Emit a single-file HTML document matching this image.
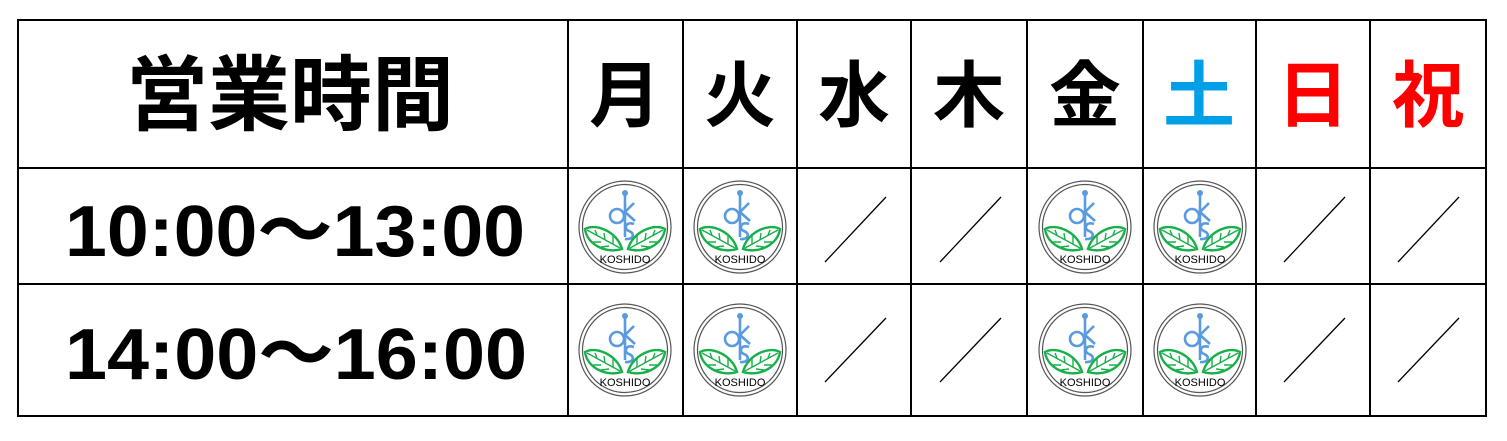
<!DOCTYPE html>
<html><head><meta charset="utf-8"><style>html,body{margin:0;padding:0;background:#fff;}svg{display:block}</style></head>
<body>
<svg width="1507" height="441" viewBox="0 0 1507 441" xmlns="http://www.w3.org/2000/svg">
<rect x="0" y="0" width="1507" height="441" fill="#fff"/>
<g stroke="#000" stroke-width="2" fill="none">
<rect x="18" y="20" width="1468" height="396"/>
<line x1="18" y1="168" x2="1486" y2="168"/>
<line x1="18" y1="284" x2="1486" y2="284"/>
<line x1="568" y1="20" x2="568" y2="416"/>
<line x1="683" y1="20" x2="683" y2="416"/>
<line x1="797" y1="20" x2="797" y2="416"/>
<line x1="911" y1="20" x2="911" y2="416"/>
<line x1="1027" y1="20" x2="1027" y2="416"/>
<line x1="1143" y1="20" x2="1143" y2="416"/>
<line x1="1256" y1="20" x2="1256" y2="416"/>
<line x1="1370" y1="20" x2="1370" y2="416"/>
</g>
<g font-family="'Liberation Sans','Noto Sans CJK JP',sans-serif" font-weight="bold" text-anchor="middle" dominant-baseline="central">
<text x="290" y="96" font-size="82">営業時間</text>
<text x="625" y="97" font-size="72">月</text>
<text x="740" y="97" font-size="72">火</text>
<text x="854" y="97" font-size="72">水</text>
<text x="969" y="97" font-size="72">木</text>
<text x="1085" y="97" font-size="72">金</text>
<text x="1199" y="97" font-size="72" fill="#00a0e9">土</text>
<text x="1313" y="97" font-size="72" fill="#ff0000">日</text>
<text x="1428" y="97" font-size="72" fill="#ff0000">祝</text>
</g>
<g font-family="'Liberation Sans','Noto Sans CJK JP',sans-serif" font-weight="bold" font-size="72">
<text x="65" y="256" textLength="460" lengthAdjust="spacingAndGlyphs">10:00～13:00</text>
<text x="65" y="379" textLength="462" lengthAdjust="spacingAndGlyphs">14:00～16:00</text>
</g>
<g stroke="#000" stroke-width="1.3">
<line x1="825" y1="262" x2="886" y2="197"/>
<line x1="940" y1="262" x2="1001" y2="197"/>
<line x1="1284" y1="262" x2="1345" y2="197"/>
<line x1="1398" y1="262" x2="1459" y2="197"/>
<line x1="825" y1="382" x2="886" y2="318"/>
<line x1="940" y1="382" x2="1001" y2="318"/>
<line x1="1284" y1="382" x2="1345" y2="318"/>
<line x1="1398" y1="382" x2="1459" y2="318"/>
</g>
<g transform="translate(625,227)">
<circle r="46" fill="#fff" stroke="#555" stroke-width="1.2"/><circle r="42.5" fill="none" stroke="#555" stroke-width="1.2"/>
<g stroke="#5a9be0" stroke-width="2.6" fill="none"><line x1="0" y1="-33" x2="0" y2="10"/><circle cx="-8" cy="-11" r="7"/><path d="M0,-15 L9,-24 M0,-15 L10,-6"/><path d="M9,-3 C1,-6 -2,2 4,4 C10,6 9,13 0,12"/></g>
<circle cx="0" cy="-34" r="3" fill="#5a9be0"/>
<g stroke="#18b04a" stroke-width="2.4" fill="#fff"><path d="M-3,22 C-8,4 -30,-4 -40,2 C-38,18 -18,27 -3,22 Z"/><path d="M3,22 C8,4 30,-4 40,2 C38,18 18,27 3,22 Z"/></g>
<g stroke="#18b04a" stroke-width="1.4" fill="none"><path d="M-5,21 L-38,3 M-12,17 L-12,9 M-20,13 L-21,6 M-28,8 L-30,3 M-16,19 L-24,20 M-24,15 L-32,15"/><path d="M5,21 L38,3 M12,17 L12,9 M20,13 L21,6 M28,8 L30,3 M16,19 L24,20 M24,15 L32,15"/></g>
<text x="0" y="36" text-anchor="middle" font-family="'Liberation Sans',sans-serif" font-size="11" fill="#000">KOSHIDO</text>
</g>
<g transform="translate(740,227)">
<circle r="46" fill="#fff" stroke="#555" stroke-width="1.2"/><circle r="42.5" fill="none" stroke="#555" stroke-width="1.2"/>
<g stroke="#5a9be0" stroke-width="2.6" fill="none"><line x1="0" y1="-33" x2="0" y2="10"/><circle cx="-8" cy="-11" r="7"/><path d="M0,-15 L9,-24 M0,-15 L10,-6"/><path d="M9,-3 C1,-6 -2,2 4,4 C10,6 9,13 0,12"/></g>
<circle cx="0" cy="-34" r="3" fill="#5a9be0"/>
<g stroke="#18b04a" stroke-width="2.4" fill="#fff"><path d="M-3,22 C-8,4 -30,-4 -40,2 C-38,18 -18,27 -3,22 Z"/><path d="M3,22 C8,4 30,-4 40,2 C38,18 18,27 3,22 Z"/></g>
<g stroke="#18b04a" stroke-width="1.4" fill="none"><path d="M-5,21 L-38,3 M-12,17 L-12,9 M-20,13 L-21,6 M-28,8 L-30,3 M-16,19 L-24,20 M-24,15 L-32,15"/><path d="M5,21 L38,3 M12,17 L12,9 M20,13 L21,6 M28,8 L30,3 M16,19 L24,20 M24,15 L32,15"/></g>
<text x="0" y="36" text-anchor="middle" font-family="'Liberation Sans',sans-serif" font-size="11" fill="#000">KOSHIDO</text>
</g>
<g transform="translate(1085,227)">
<circle r="46" fill="#fff" stroke="#555" stroke-width="1.2"/><circle r="42.5" fill="none" stroke="#555" stroke-width="1.2"/>
<g stroke="#5a9be0" stroke-width="2.6" fill="none"><line x1="0" y1="-33" x2="0" y2="10"/><circle cx="-8" cy="-11" r="7"/><path d="M0,-15 L9,-24 M0,-15 L10,-6"/><path d="M9,-3 C1,-6 -2,2 4,4 C10,6 9,13 0,12"/></g>
<circle cx="0" cy="-34" r="3" fill="#5a9be0"/>
<g stroke="#18b04a" stroke-width="2.4" fill="#fff"><path d="M-3,22 C-8,4 -30,-4 -40,2 C-38,18 -18,27 -3,22 Z"/><path d="M3,22 C8,4 30,-4 40,2 C38,18 18,27 3,22 Z"/></g>
<g stroke="#18b04a" stroke-width="1.4" fill="none"><path d="M-5,21 L-38,3 M-12,17 L-12,9 M-20,13 L-21,6 M-28,8 L-30,3 M-16,19 L-24,20 M-24,15 L-32,15"/><path d="M5,21 L38,3 M12,17 L12,9 M20,13 L21,6 M28,8 L30,3 M16,19 L24,20 M24,15 L32,15"/></g>
<text x="0" y="36" text-anchor="middle" font-family="'Liberation Sans',sans-serif" font-size="11" fill="#000">KOSHIDO</text>
</g>
<g transform="translate(1200,227)">
<circle r="46" fill="#fff" stroke="#555" stroke-width="1.2"/><circle r="42.5" fill="none" stroke="#555" stroke-width="1.2"/>
<g stroke="#5a9be0" stroke-width="2.6" fill="none"><line x1="0" y1="-33" x2="0" y2="10"/><circle cx="-8" cy="-11" r="7"/><path d="M0,-15 L9,-24 M0,-15 L10,-6"/><path d="M9,-3 C1,-6 -2,2 4,4 C10,6 9,13 0,12"/></g>
<circle cx="0" cy="-34" r="3" fill="#5a9be0"/>
<g stroke="#18b04a" stroke-width="2.4" fill="#fff"><path d="M-3,22 C-8,4 -30,-4 -40,2 C-38,18 -18,27 -3,22 Z"/><path d="M3,22 C8,4 30,-4 40,2 C38,18 18,27 3,22 Z"/></g>
<g stroke="#18b04a" stroke-width="1.4" fill="none"><path d="M-5,21 L-38,3 M-12,17 L-12,9 M-20,13 L-21,6 M-28,8 L-30,3 M-16,19 L-24,20 M-24,15 L-32,15"/><path d="M5,21 L38,3 M12,17 L12,9 M20,13 L21,6 M28,8 L30,3 M16,19 L24,20 M24,15 L32,15"/></g>
<text x="0" y="36" text-anchor="middle" font-family="'Liberation Sans',sans-serif" font-size="11" fill="#000">KOSHIDO</text>
</g>
<g transform="translate(625,350)">
<circle r="46" fill="#fff" stroke="#555" stroke-width="1.2"/><circle r="42.5" fill="none" stroke="#555" stroke-width="1.2"/>
<g stroke="#5a9be0" stroke-width="2.6" fill="none"><line x1="0" y1="-33" x2="0" y2="10"/><circle cx="-8" cy="-11" r="7"/><path d="M0,-15 L9,-24 M0,-15 L10,-6"/><path d="M9,-3 C1,-6 -2,2 4,4 C10,6 9,13 0,12"/></g>
<circle cx="0" cy="-34" r="3" fill="#5a9be0"/>
<g stroke="#18b04a" stroke-width="2.4" fill="#fff"><path d="M-3,22 C-8,4 -30,-4 -40,2 C-38,18 -18,27 -3,22 Z"/><path d="M3,22 C8,4 30,-4 40,2 C38,18 18,27 3,22 Z"/></g>
<g stroke="#18b04a" stroke-width="1.4" fill="none"><path d="M-5,21 L-38,3 M-12,17 L-12,9 M-20,13 L-21,6 M-28,8 L-30,3 M-16,19 L-24,20 M-24,15 L-32,15"/><path d="M5,21 L38,3 M12,17 L12,9 M20,13 L21,6 M28,8 L30,3 M16,19 L24,20 M24,15 L32,15"/></g>
<text x="0" y="36" text-anchor="middle" font-family="'Liberation Sans',sans-serif" font-size="11" fill="#000">KOSHIDO</text>
</g>
<g transform="translate(740,350)">
<circle r="46" fill="#fff" stroke="#555" stroke-width="1.2"/><circle r="42.5" fill="none" stroke="#555" stroke-width="1.2"/>
<g stroke="#5a9be0" stroke-width="2.6" fill="none"><line x1="0" y1="-33" x2="0" y2="10"/><circle cx="-8" cy="-11" r="7"/><path d="M0,-15 L9,-24 M0,-15 L10,-6"/><path d="M9,-3 C1,-6 -2,2 4,4 C10,6 9,13 0,12"/></g>
<circle cx="0" cy="-34" r="3" fill="#5a9be0"/>
<g stroke="#18b04a" stroke-width="2.4" fill="#fff"><path d="M-3,22 C-8,4 -30,-4 -40,2 C-38,18 -18,27 -3,22 Z"/><path d="M3,22 C8,4 30,-4 40,2 C38,18 18,27 3,22 Z"/></g>
<g stroke="#18b04a" stroke-width="1.4" fill="none"><path d="M-5,21 L-38,3 M-12,17 L-12,9 M-20,13 L-21,6 M-28,8 L-30,3 M-16,19 L-24,20 M-24,15 L-32,15"/><path d="M5,21 L38,3 M12,17 L12,9 M20,13 L21,6 M28,8 L30,3 M16,19 L24,20 M24,15 L32,15"/></g>
<text x="0" y="36" text-anchor="middle" font-family="'Liberation Sans',sans-serif" font-size="11" fill="#000">KOSHIDO</text>
</g>
<g transform="translate(1085,350)">
<circle r="46" fill="#fff" stroke="#555" stroke-width="1.2"/><circle r="42.5" fill="none" stroke="#555" stroke-width="1.2"/>
<g stroke="#5a9be0" stroke-width="2.6" fill="none"><line x1="0" y1="-33" x2="0" y2="10"/><circle cx="-8" cy="-11" r="7"/><path d="M0,-15 L9,-24 M0,-15 L10,-6"/><path d="M9,-3 C1,-6 -2,2 4,4 C10,6 9,13 0,12"/></g>
<circle cx="0" cy="-34" r="3" fill="#5a9be0"/>
<g stroke="#18b04a" stroke-width="2.4" fill="#fff"><path d="M-3,22 C-8,4 -30,-4 -40,2 C-38,18 -18,27 -3,22 Z"/><path d="M3,22 C8,4 30,-4 40,2 C38,18 18,27 3,22 Z"/></g>
<g stroke="#18b04a" stroke-width="1.4" fill="none"><path d="M-5,21 L-38,3 M-12,17 L-12,9 M-20,13 L-21,6 M-28,8 L-30,3 M-16,19 L-24,20 M-24,15 L-32,15"/><path d="M5,21 L38,3 M12,17 L12,9 M20,13 L21,6 M28,8 L30,3 M16,19 L24,20 M24,15 L32,15"/></g>
<text x="0" y="36" text-anchor="middle" font-family="'Liberation Sans',sans-serif" font-size="11" fill="#000">KOSHIDO</text>
</g>
<g transform="translate(1200,350)">
<circle r="46" fill="#fff" stroke="#555" stroke-width="1.2"/><circle r="42.5" fill="none" stroke="#555" stroke-width="1.2"/>
<g stroke="#5a9be0" stroke-width="2.6" fill="none"><line x1="0" y1="-33" x2="0" y2="10"/><circle cx="-8" cy="-11" r="7"/><path d="M0,-15 L9,-24 M0,-15 L10,-6"/><path d="M9,-3 C1,-6 -2,2 4,4 C10,6 9,13 0,12"/></g>
<circle cx="0" cy="-34" r="3" fill="#5a9be0"/>
<g stroke="#18b04a" stroke-width="2.4" fill="#fff"><path d="M-3,22 C-8,4 -30,-4 -40,2 C-38,18 -18,27 -3,22 Z"/><path d="M3,22 C8,4 30,-4 40,2 C38,18 18,27 3,22 Z"/></g>
<g stroke="#18b04a" stroke-width="1.4" fill="none"><path d="M-5,21 L-38,3 M-12,17 L-12,9 M-20,13 L-21,6 M-28,8 L-30,3 M-16,19 L-24,20 M-24,15 L-32,15"/><path d="M5,21 L38,3 M12,17 L12,9 M20,13 L21,6 M28,8 L30,3 M16,19 L24,20 M24,15 L32,15"/></g>
<text x="0" y="36" text-anchor="middle" font-family="'Liberation Sans',sans-serif" font-size="11" fill="#000">KOSHIDO</text>
</g>
</svg>
</body></html>
